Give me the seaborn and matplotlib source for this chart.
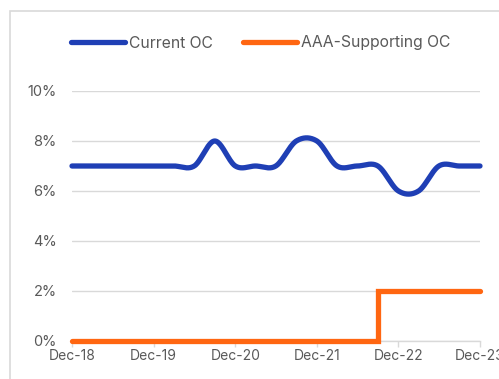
import numpy as np
import pandas as pd
import matplotlib
matplotlib.use("Agg")
import matplotlib.pyplot as plt
import matplotlib.dates as mdates
from matplotlib.patches import Rectangle
import seaborn as sns

# Quarter-end observations, Dec-18 .. Dec-23
quarters = pd.date_range("2018-12-31", "2023-12-31", freq="QE")
current_oc = [7, 7, 7, 7, 7, 7, 7, 8, 7, 7, 7, 8, 8, 7, 7, 7, 6, 6, 7, 7, 7]
aaa_supporting_oc = [0, 0, 0, 0, 0, 0, 0, 0, 0, 0, 0, 0, 0, 0, 0, 2, 2, 2, 2, 2, 2]
tick_years = [2018, 2019, 2020, 2021, 2022, 2023]
tick_labels = ["Dec-18", "Dec-19", "Dec-20", "Dec-21", "Dec-22", "Dec-23"]
y_ticks = [0, 2, 4, 6, 8, 10]

BLUE = "#1f3fb5"
ORANGE = "#ff6611"
GRID = "#d9d9d9"
TEXT = "#595959"


def smooth_curve(x, y, n=40):
    """Catmull-Rom curve through the points (spreadsheet-style smoothed line)."""
    x = np.asarray(x, float)
    y = np.asarray(y, float)
    px = np.concatenate([[x[0]], x, [x[-1]]])
    py = np.concatenate([[y[0]], y, [y[-1]]])
    xs, ys = [], []
    t = np.linspace(0, 1, n, endpoint=False)
    for i in range(1, len(px) - 2):
        for arr, out in ((px, xs), (py, ys)):
            p0, p1, p2, p3 = arr[i - 1], arr[i], arr[i + 1], arr[i + 2]
            out.append(0.5 * ((2 * p1) + (-p0 + p2) * t
                              + (2 * p0 - 5 * p1 + 4 * p2 - p3) * t ** 2
                              + (-p0 + 3 * p1 - 3 * p2 + p3) * t ** 3))
    xs.append([x[-1]])
    ys.append([y[-1]])
    return np.concatenate(xs), np.concatenate(ys)


sns.set_theme(style="white")
plt.rcParams["font.family"] = ["Inter", "DejaVu Sans"]

fig = plt.figure(figsize=(4.99, 3.79), dpi=100)
ax = fig.add_axes([72 / 499, 1 - 341 / 379, (480 - 72) / 499, (341 - 91) / 379])

xnum = mdates.date2num(quarters)
sx, sy = smooth_curve(xnum, current_oc)
blue_df = pd.DataFrame({"date": mdates.num2date(sx), "value": sy})
orange_df = pd.DataFrame({"date": quarters, "value": aaa_supporting_oc})

sns.lineplot(data=blue_df, x="date", y="value", ax=ax, color=BLUE, lw=3.8,
             label="Current OC", sort=False, solid_capstyle="round",
             clip_on=False, zorder=3)
sns.lineplot(data=orange_df, x="date", y="value", ax=ax, color=ORANGE, lw=3.8,
             label="AAA-Supporting OC", drawstyle="steps-post",
             solid_capstyle="round", solid_joinstyle="miter",
             clip_on=False, zorder=4)

ax.set_xlim(quarters[0], quarters[-1])
ax.set_ylim(0, 10)
ax.set_yticks(y_ticks)
ax.set_yticklabels([f"{v}%" for v in y_ticks])
ax.set_xticks([pd.Timestamp(f"{yr}-12-31") for yr in tick_years])
ax.set_xticklabels(tick_labels)
ax.set_xlabel("")
ax.set_ylabel("")

ax.yaxis.grid(True, color=GRID, lw=1)
ax.xaxis.grid(False)
for side in ("top", "right", "left"):
    ax.spines[side].set_visible(False)
ax.spines["bottom"].set_color(GRID)
ax.spines["bottom"].set_linewidth(1)
ax.tick_params(axis="y", length=0, pad=11, labelsize=10.5, labelcolor=TEXT)
ax.tick_params(axis="x", bottom=True, direction="out", length=4, width=1,
               color=GRID, pad=2, labelsize=10, labelcolor=TEXT)

ax.legend(loc="center left", bbox_to_anchor=(-0.003, 1 + (91 - 43) / 250),
          ncol=2, frameon=False, fontsize=11.3, handlelength=3.45,
          handletextpad=0.25, columnspacing=1.95, labelcolor=TEXT,
          borderaxespad=0, borderpad=0)

fig.patches.append(Rectangle((10 / 499, -0.1), 1.2, 1.1 - 11 / 379,
                             transform=fig.transFigure, fill=False,
                             edgecolor=GRID, lw=1.2))

fig.savefig("out.png", dpi=100)
